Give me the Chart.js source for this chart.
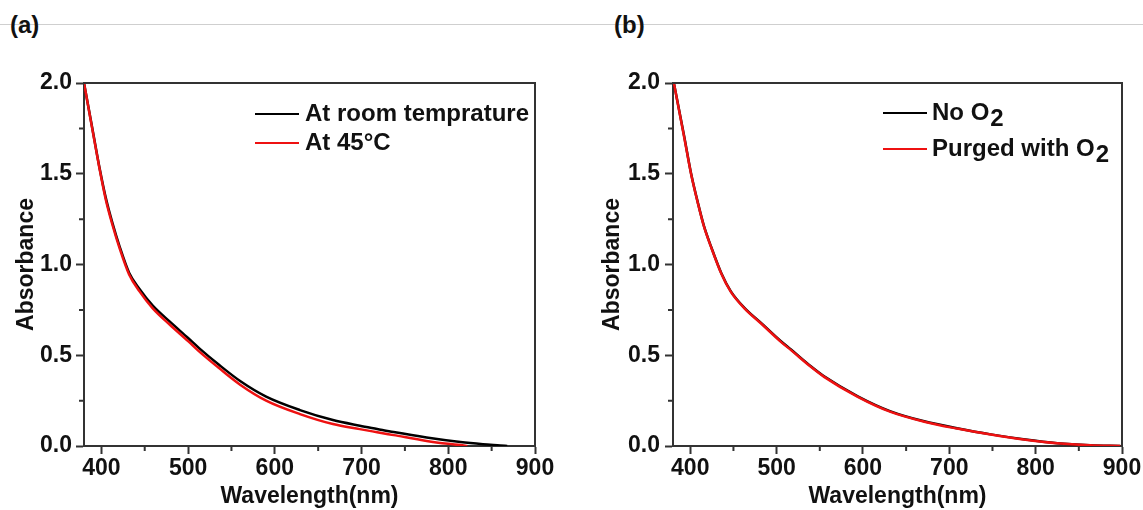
<!DOCTYPE html>
<html>
<head>
<meta charset="utf-8">
<script src="https://cdn.jsdelivr.net/npm/chart.js@4.4.1/dist/chart.umd.min.js"></script>
<style>
  body { margin: 0; background: #fff; width: 1143px; height: 510px; overflow: hidden; position: relative; font-family: "Liberation Sans", Arial, sans-serif; }
  .rule { position: absolute; left: 0; top: 24px; width: 1143px; height: 1px; background: #cfcfcf; }
  .tag { position: absolute; top: 14px; font-weight: bold; font-size: 24px; line-height: 22px; color: #111; }
  canvas { position: absolute; top: 0; }
</style>
</head>
<body>
<div class="rule"></div>
<div class="tag" style="left:10px">(a)</div>
<div class="tag" style="left:614px">(b)</div>
<canvas id="chartA" width="571" height="510" style="left:0"></canvas>
<canvas id="chartB" width="572" height="510" style="left:571px"></canvas>
<script>
// (a) комнатная температура и 45°C
const wlRoomA = [380, 390, 398, 405, 413, 421, 432, 444, 459, 479, 500, 513, 536, 560, 590, 629, 667, 698, 718, 737, 775, 814, 840, 860, 868];
const absRoomA = [2.0, 1.74, 1.53, 1.37, 1.225, 1.10, 0.955, 0.865, 0.775, 0.685, 0.595, 0.538, 0.446, 0.358, 0.272, 0.198, 0.143, 0.112, 0.094, 0.077, 0.047, 0.022, 0.01, 0.003, 0.0];
const wlHotA = [380, 390, 398, 405, 413, 421, 432, 444, 459, 479, 500, 513, 536, 560, 590, 629, 667, 698, 718, 737, 775, 800, 814, 822];
const absHotA = [2.0, 1.735, 1.525, 1.36, 1.215, 1.09, 0.945, 0.852, 0.76, 0.668, 0.578, 0.52, 0.428, 0.338, 0.25, 0.176, 0.121, 0.093, 0.076, 0.06, 0.028, 0.012, 0.005, 0.0];

// (b) без O2 и с продувкой O2
const wlB = [381, 393, 401, 409, 416, 424, 436, 447, 463, 482, 505, 517, 540, 555, 594, 632, 671, 709, 748, 786, 825, 863, 898];
const absNoO2 = [2.0, 1.705, 1.50, 1.337, 1.21, 1.10, 0.952, 0.852, 0.76, 0.678, 0.577, 0.53, 0.438, 0.384, 0.274, 0.191, 0.136, 0.098, 0.064, 0.037, 0.015, 0.004, 0.0];
const absPurged = [2.0, 1.70, 1.497, 1.334, 1.207, 1.097, 0.949, 0.849, 0.757, 0.675, 0.574, 0.527, 0.435, 0.381, 0.271, 0.188, 0.134, 0.096, 0.063, 0.036, 0.015, 0.004, 0.0];

const labelsA = ["At room temprature", "At 45°C"];
const labelsB = ["No O₂", "Purged with O₂"];

const xTicks = [400, 500, 600, 700, 800, 900];
const xMinor = [450, 550, 650, 750, 850];
const yTicks = [0, 0.5, 1.0, 1.5, 2.0];
const yMinor = [0.25, 0.75, 1.25, 1.75];

const FONT = "'Liberation Sans', Arial, sans-serif";
Chart.defaults.font.family = FONT;
Chart.defaults.font.weight = "bold";
Chart.defaults.color = "#111";

function pts(xs, ys) {
    return xs.map((x, i) => ({ x: x, y: ys[i] }));
}

function drawLabel(ctx, text, x, y) {
    // "₂" рисуем как опущенную двойку
    const parts = text.split("₂");
    let cx = x;
    parts.forEach((p, i) => {
        ctx.fillText(p, cx, y);
        cx += ctx.measureText(p).width;
        if (i < parts.length - 1) {
            ctx.fillText("2", cx + 1, y + 6);
            cx += ctx.measureText("2").width + 1;
        }
    });
}

// рамка, малые деления и легенда
const framePlugin = {
    id: "frame",
    afterDraw(chart, args, opts) {
        const { ctx, chartArea: a, scales } = chart;
        ctx.save();
        ctx.strokeStyle = "#333";
        ctx.lineWidth = 2;
        ctx.beginPath();
        ctx.moveTo(a.left, a.top);
        ctx.lineTo(a.right, a.top);
        ctx.lineTo(a.right, a.bottom);
        ctx.stroke();

        ctx.beginPath();
        xMinor.forEach(v => {
            const px = scales.x.getPixelForValue(v);
            ctx.moveTo(px, a.bottom);
            ctx.lineTo(px, a.bottom + 5);
        });
        yMinor.forEach(v => {
            const py = scales.y.getPixelForValue(v);
            ctx.moveTo(a.left, py);
            ctx.lineTo(a.left - 5, py);
        });
        ctx.stroke();

        ctx.font = "bold 24px " + FONT;
        ctx.textBaseline = "middle";
        ctx.fillStyle = "#111";
        chart.data.datasets.forEach((ds, i) => {
            const yy = opts.y + i * opts.gap;
            ctx.strokeStyle = ds.borderColor;
            ctx.lineWidth = 2;
            ctx.beginPath();
            ctx.moveTo(opts.x, yy);
            ctx.lineTo(opts.x + 44, yy);
            ctx.stroke();
            drawLabel(ctx, ds.label, opts.x + opts.textGap, yy);
        });
        ctx.restore();
    },
};

function makeChart(id, datasets, cfg) {
    const ctx = document.getElementById(id).getContext("2d");
    return new Chart(ctx, {
        type: "line",
        data: { datasets: datasets },
        options: {
            responsive: false,
            animation: false,
            parsing: false,
            layout: { padding: { top: 83, right: cfg.padRight, left: 0, bottom: 0 } },
            elements: {
                point: { radius: 0 },
                line: { borderWidth: 2.5, cubicInterpolationMode: "monotone" },
            },
            plugins: {
                legend: { display: false },
                tooltip: { enabled: false },
                frame: cfg.legend,
            },
            scales: {
                x: {
                    type: "linear",
                    min: 380,
                    max: 900,
                    afterBuildTicks: s => { s.ticks = xTicks.map(v => ({ value: v })); },
                    afterFit: s => { s.height = 64; },
                    grid: { drawOnChartArea: false, tickLength: 8, tickWidth: 2, tickColor: "#333" },
                    border: { color: "#333", width: 2 },
                    ticks: { font: { size: 23 }, padding: 1, maxRotation: 0, autoSkip: false },
                    title: {
                        display: true,
                        text: "Wavelength(nm)",
                        font: { size: 23 },
                        padding: { top: 0, bottom: 0 },
                    },
                },
                y: {
                    min: 0,
                    max: 2,
                    afterBuildTicks: s => { s.ticks = yTicks.map(v => ({ value: v })); },
                    afterFit: s => { s.width = cfg.yWidth; },
                    grid: { drawOnChartArea: false, tickLength: 8, tickWidth: 2, tickColor: "#333" },
                    border: { color: "#333", width: 2 },
                    ticks: {
                        font: { size: 23 },
                        padding: cfg.yTickPad,
                        callback: v => v.toFixed(1),
                    },
                    title: {
                        display: true,
                        text: "Absorbance",
                        font: { size: 23 },
                        padding: { top: cfg.yTitlePad, bottom: 0 },
                    },
                },
            },
        },
        plugins: [framePlugin],
    });
}

makeChart("chartA", [
    { label: labelsA[0], data: pts(wlRoomA, absRoomA), borderColor: "#000000", order: 1 },
    { label: labelsA[1], data: pts(wlHotA, absHotA), borderColor: "#ee1111", order: 0 },
], { padRight: 36, yWidth: 84, yTickPad: 4, yTitlePad: 13, legend: { x: 255, y: 114, gap: 29, textGap: 50 } });

makeChart("chartB", [
    { label: labelsB[0], data: pts(wlB, absNoO2), borderColor: "#000000", order: 1 },
    { label: labelsB[1], data: pts(wlB, absPurged), borderColor: "#ee1111", order: 0 },
], { padRight: 21, yWidth: 102, yTickPad: 5, yTitlePad: 28, legend: { x: 312, y: 113, gap: 36, textGap: 49 } });
</script>
</body>
</html>
